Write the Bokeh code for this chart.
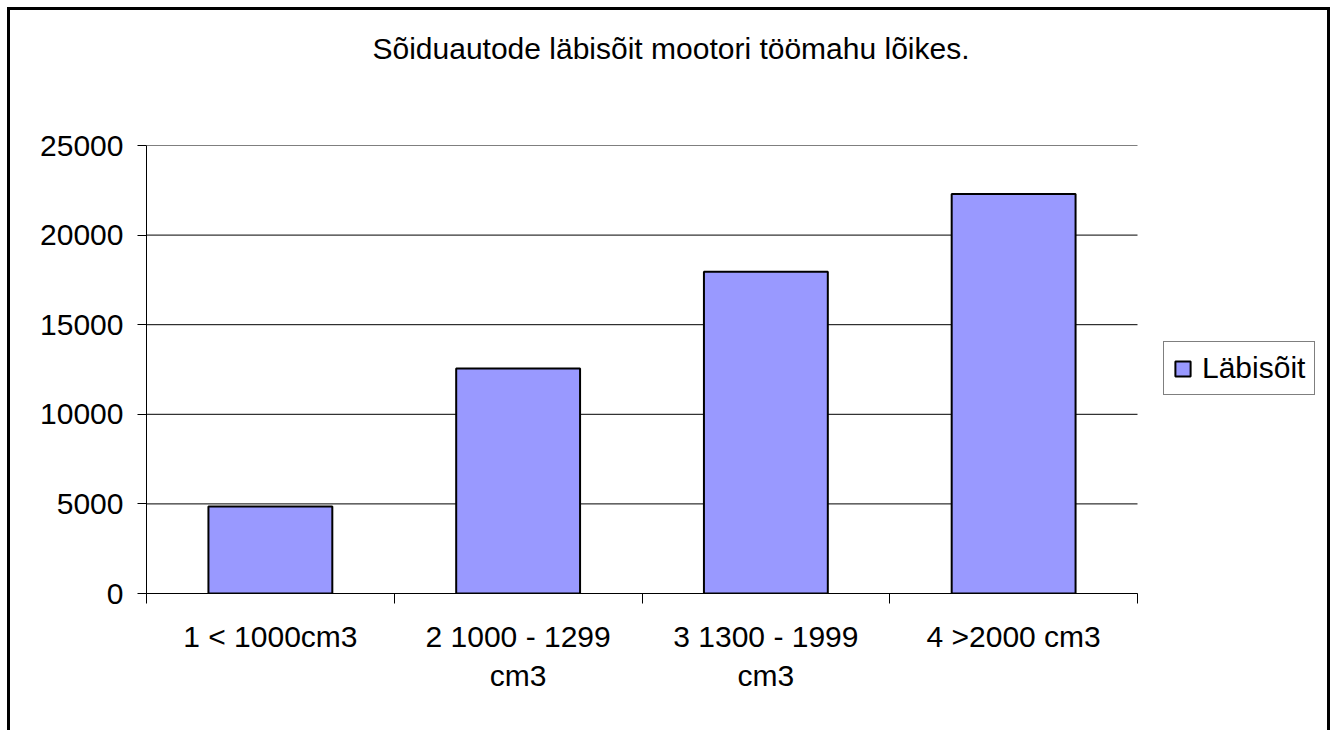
from bokeh.plotting import figure
from bokeh.models import (FixedTicker, Range1d, Legend, LegendItem, ColumnDataSource,
                          Title)
from bokeh.embed import file_html
from bokeh.resources import INLINE

# ---- data ----
title_text = "Sõiduautode läbisõit mootori töömahu lõikes."
categories = ["1 < 1000cm3", "2 1000 - 1299\ncm3", "3 1300 - 1999\ncm3", "4 >2000 cm3"]
values = [4850, 12550, 17950, 22300]
series_name = "Läbisõit"
y_ticks = [0, 5000, 10000, 15000, 20000, 25000]

FONT = "Liberation Sans"
FS = "30px"

# layout (pixels)
PLOT_W = 991          # width of the category area
FRAME_W = 1176        # frame extends right to hold the legend
FRAME_H = 448

n = len(categories)
xs = list(range(1, n + 1))
x_start = 0.5
x_end = x_start + n * FRAME_W / PLOT_W
source = ColumnDataSource(dict(x=xs, top=values, label=categories))
grid_src = ColumnDataSource(dict(y=y_ticks, x0=[x_start] * len(y_ticks),
                                 x1=[n + 0.5] * len(y_ticks)))

p = figure(frame_width=FRAME_W, frame_height=FRAME_H, output_backend="svg",
           toolbar_location=None,
           x_range=Range1d(x_start, x_end),
           y_range=Range1d(y_ticks[0], y_ticks[-1]),
           min_border_left=136, min_border_right=5,
           min_border_top=135, min_border_bottom=137)
p.title_location = None
p.styles = {"margin-left": "7px", "margin-top": "7px",
            "border-left": "3px solid black", "border-top": "3px solid black",
            "border-right": "3px solid black", "box-sizing": "content-box"}
p.outline_line_color = None
p.background_fill_color = "white"
p.border_fill_color = "white"
p.xgrid.visible = False
p.ygrid.visible = False

# horizontal gridlines limited to the category area
p.segment(x0="x0", x1="x1", y0="y", y1="y", source=grid_src,
          line_color="black", line_width=1)

r = p.vbar(x="x", top="top", bottom=0, width=0.5, source=source,
           fill_color="#9999FF", line_color="black", line_width=2)

# x axis
xa = p.xaxis[0]
xa.bounds = (x_start, n + 0.5)
xa.ticker = FixedTicker(ticks=xs, minor_ticks=[i + 0.5 for i in range(0, n + 1)])
xa.major_label_overrides = {x: lab for x, lab in zip(xs, categories)}
xa.major_tick_line_color = None
xa.major_tick_out = 10
xa.major_tick_in = 0
xa.minor_tick_line_color = "black"
xa.minor_tick_out = 10
xa.minor_tick_in = 0
xa.axis_line_color = "black"
xa.major_label_text_font = FONT
xa.major_label_text_font_size = FS
xa.major_label_text_color = "black"
xa.major_label_standoff = 16

# y axis
ya = p.yaxis[0]
ya.ticker = FixedTicker(ticks=y_ticks, minor_ticks=[])
ya.major_tick_out = 9
ya.major_tick_in = 0
ya.major_tick_line_color = "black"
ya.axis_line_color = "black"
ya.major_label_text_font = FONT
ya.major_label_text_font_size = FS
ya.major_label_text_color = "black"
ya.major_label_standoff = 14

# title above, pushed away from the frame by a blank spacer title
p.add_layout(Title(text=" ", text_font_size="1px", standoff=78, text_color="white"), "above")
p.add_layout(Title(text=title_text, align="left", offset=226, vertical_align="bottom",
                   standoff=0, text_font=FONT, text_font_size=FS,
                   text_font_style="normal", text_color="black"), "above")

# legend inside the (extended) frame, to the right of the category area
legend = Legend(items=[LegendItem(label=series_name, renderers=[r])],
                location=(1017, 198), orientation="vertical",
                glyph_width=19, glyph_height=19, label_standoff=10,
                label_text_font=FONT, label_text_font_size=FS,
                label_text_color="black", padding=9, spacing=0, margin=0,
                border_line_color="black", border_line_width=1,
                background_fill_color="white", background_fill_alpha=1)
p.add_layout(legend)

open("out.html", "w").write(file_html(p, INLINE))
